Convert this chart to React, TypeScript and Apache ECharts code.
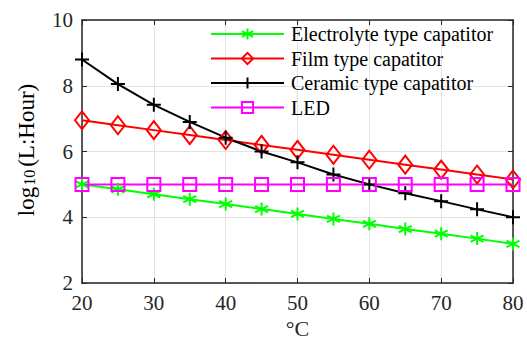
import React, { useEffect, useRef } from "react";
import * as echarts from "echarts";

const temps = [20, 25, 30, 35, 40, 45, 50, 55, 60, 65, 70, 75, 80];
const electrolyte = [5.0, 4.85, 4.7, 4.55, 4.4, 4.25, 4.1, 3.95, 3.8, 3.64, 3.5, 3.35, 3.19];
const film = [6.95, 6.8, 6.65, 6.5, 6.35, 6.2, 6.05, 5.9, 5.75, 5.6, 5.45, 5.3, 5.15];
const ceramic = [8.8, 8.05, 7.42, 6.9, 6.42, 6.0, 5.67, 5.3, 5.0, 4.73, 4.49, 4.24, 4.0];
const led = [5, 5, 5, 5, 5, 5, 5, 5, 5, 5, 5, 5, 5];
const seriesNames = [
  "Electrolyte type capatitor",
  "Film type capatitor",
  "Ceramic type capatitor",
  "LED",
];

const FONT = "Times New Roman";
const ASTERISK = "path://M0,-1L0,1M-0.866,-0.5L0.866,0.5M-0.866,0.5L0.866,-0.5";
const PLUS = "path://M0,-1L0,1M-1,0L1,0";

export default function App() {
  const ref = useRef<HTMLDivElement>(null);
  useEffect(() => {
    document.body.style.margin = "0";
    if (!ref.current) return;
    const chart = echarts.init(ref.current, null, { renderer: "svg" });
    const pairs = (vals: number[]) => temps.map((t, i) => [t, vals[i]]);
    const mk = (
      name: string,
      vals: number[],
      color: string,
      symbol: string,
      size: number | number[]
    ) => ({
      name,
      type: "line",
      data: pairs(vals),
      color,
      symbol,
      symbolSize: size,
      showAllSymbol: true,
      lineStyle: { color, width: 2 },
      itemStyle: { color: "transparent", borderColor: color, borderWidth: 2 },
      emphasis: { disabled: true },
    });
    const axisColor = "#262626";
    chart.setOption({
      animation: false,
      backgroundColor: "#fff",
      textStyle: { fontFamily: FONT },
      grid: { left: 82, right: 14, top: 20, bottom: 55, outerBoundsMode: "none", containLabel: false },
      legend: {
        orient: "vertical",
        left: 210,
        top: 24,
        padding: 0,
        itemWidth: 73,
        itemHeight: 14,
        itemGap: 4.5,
        textStyle: { fontFamily: FONT, fontSize: 20, color: "#000", padding: [0, 0, 0, 2] },
        data: seriesNames,
      },
      graphic: [
        {
          type: "text",
          x: 24,
          y: 150,
          rotation: Math.PI / 2,
          style: {
            text: "{m|log}{s|10}{m|(L:Hour)}",
            align: "center",
            verticalAlign: "middle",
            rich: {
              m: { fontFamily: FONT, fontSize: 23, color: axisColor, lineHeight: 27, verticalAlign: "bottom" },
              s: { fontFamily: FONT, fontSize: 16, color: axisColor, lineHeight: 27, verticalAlign: "bottom", padding: [11, 3, 0, 1] },
            },
          },
        },
      ],
      xAxis: [
        {
          type: "value",
          min: 20,
          max: 80,
          interval: 10,
          name: "°C",
          nameLocation: "middle",
          nameGap: 29,
          nameTextStyle: { fontFamily: FONT, fontSize: 22, color: axisColor },
          axisLine: { lineStyle: { color: axisColor, width: 1.5 } },
          axisTick: { inside: true, length: 5, lineStyle: { color: axisColor } },
          axisLabel: { fontFamily: FONT, fontSize: 21, color: axisColor, margin: 9 },
          splitLine: { show: true, lineStyle: { color: "#e3e3e3", width: 1 } },
        },
        {
          type: "value",
          position: "top",
          min: 20,
          max: 80,
          interval: 10,
          axisLine: { show: true, lineStyle: { color: axisColor, width: 1.5 } },
          axisTick: { inside: true, length: 5, lineStyle: { color: axisColor } },
          axisLabel: { show: false },
          splitLine: { show: false },
        },
      ],
      yAxis: [
        {
          type: "value",
          min: 2,
          max: 10,
          interval: 2,
          axisLine: { show: true, lineStyle: { color: axisColor, width: 1.5 } },
          axisTick: { show: true, inside: true, length: 5, lineStyle: { color: axisColor } },
          axisLabel: { fontFamily: FONT, fontSize: 21, color: axisColor, margin: 9 },
          splitLine: { show: true, lineStyle: { color: "#e3e3e3", width: 1 } },
        },
        {
          type: "value",
          position: "right",
          min: 2,
          max: 10,
          interval: 2,
          axisLine: { show: true, lineStyle: { color: axisColor, width: 1.5 } },
          axisTick: { show: true, inside: true, length: 5, lineStyle: { color: axisColor } },
          axisLabel: { show: false },
          splitLine: { show: false },
        },
      ],
      series: [
        mk(seriesNames[0], electrolyte, "#00ff00", ASTERISK, 13),
        mk(seriesNames[1], film, "#ff0000", "diamond", [14, 18]),
        mk(seriesNames[2], ceramic, "#000000", PLUS, 14),
        mk(seriesNames[3], led, "#ff00ff", "rect", 13),
      ],
    });
    return () => chart.dispose();
  }, []);
  return <div ref={ref} style={{ width: 527, height: 338 }} />;
}
